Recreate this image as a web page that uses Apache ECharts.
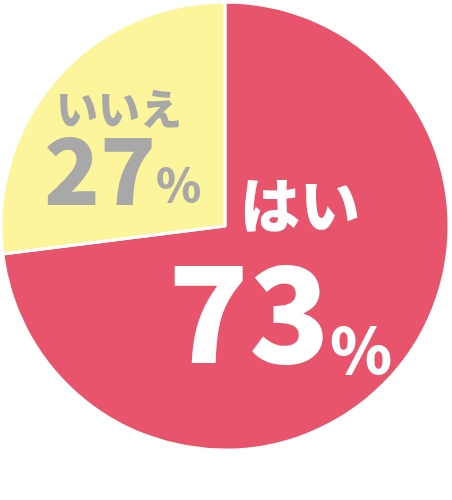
<!DOCTYPE html>
<html><head><meta charset="utf-8">
<script src="https://cdn.jsdelivr.net/npm/echarts@6/dist/echarts.min.js"></script>
<style>html,body{margin:0;padding:0;background:#fff}#c{width:452px;height:500px}</style>
</head><body><div id="c"></div>
<script>
const categories = ['はい', 'いいえ'];
const values = [73, 27];
const colors = ['#E8546C', '#FDF59B'];
const labelColors = ['#FFFFFF', '#A8A8A8'];

const FONT = '"Noto Sans CJK JP", "Noto Sans", sans-serif';
const W = 900;
const labelPos = [ {x: 168, y: 168}, {x: 44, y: 86} ];

const richYes = {
  n: {fontFamily: FONT, fontWeight: W, fontSize: 60, lineHeight: 74, color: labelColors[0], padding: [0,0,0,72]},
  v: {fontFamily: FONT, fontWeight: W, fontSize: 133, lineHeight: 140, color: labelColors[0]},
  p: {fontFamily: FONT, fontWeight: W, fontSize: 63, lineHeight: 86, color: labelColors[0], verticalAlign: 'bottom'}
};
const richNo = {
  n: {fontFamily: FONT, fontWeight: W, fontSize: 42, lineHeight: 46, color: labelColors[1], padding: [0,0,0,12]},
  v: {fontFamily: FONT, fontWeight: W, fontSize: 92, lineHeight: 76, color: labelColors[1]},
  p: {fontFamily: FONT, fontWeight: W, fontSize: 46, lineHeight: 41, color: labelColors[1], verticalAlign: 'bottom'}
};

const data = categories.map((c, i) => ({
  name: c,
  value: values[i],
  itemStyle: {color: colors[i]},
  label: {
    show: true,
    position: 'inside',
    align: 'left',
    verticalAlign: 'top',
    textBorderWidth: 0,
    formatter: p => '{n|' + p.name + '}\n{v|' + p.value + '}{p|%}',
    rich: i === 0 ? richYes : richNo
  }
}));

const chart = echarts.init(document.getElementById('c'), null, {renderer: 'canvas'});
chart.setOption({
  animation: false,
  series: [{
    type: 'pie',
    center: [225, 226],
    radius: [0, 224],
    startAngle: 90,
    clockwise: true,
    silent: true,
    itemStyle: {borderColor: '#fff', borderWidth: 3},
    labelLine: {show: false},
    labelLayout: params => ({
      x: labelPos[params.dataIndex].x,
      y: labelPos[params.dataIndex].y,
      align: 'left',
      verticalAlign: 'top'
    }),
    data: data
  }]
});
</script></body></html>
